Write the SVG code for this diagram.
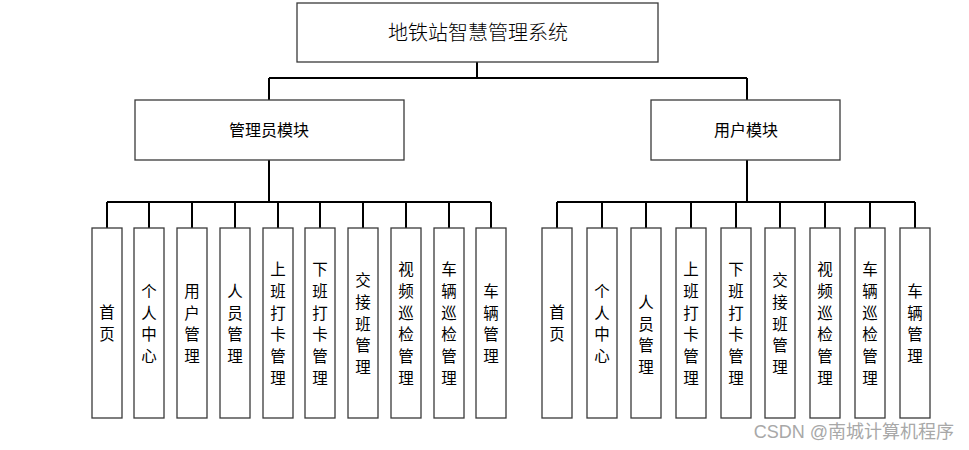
<svg xmlns="http://www.w3.org/2000/svg" width="969" height="450" viewBox="0 0 969 450">
<style>
.box{fill:#fff;stroke:#3a3a3a;stroke-width:1.3}
.t{font-family:"Noto Sans CJK SC","Noto Sans",sans-serif;fill:#000;text-anchor:middle}
.v{font-size:15.5px}
.c{stroke:#000;stroke-width:2;fill:none}
</style>
<rect width="969" height="450" fill="#fff"/>
<g id="connectors">
<path class="c" d="M477 62V78M269 78H747M269 78V100M747 78V100"/>
<path class="c" d="M269 160V202M107 202H491M107 202V228M149 202V228M192 202V228M235 202V228M278 202V228M320 202V228M363 202V228M406 202V228M449 202V228M491 202V228"/>
<path class="c" d="M747 160V202M557 202H915M557 202V228M602 202V228M646 202V228M691 202V228M736 202V228M780 202V228M825 202V228M870 202V228M915 202V228"/>
</g>
<g id="root"><rect class="box" x="297" y="3" width="361" height="59"/><text class="t" x="478" y="40" font-size="20" font-weight="300">地铁站智慧管理系统</text></g>
<g id="admin"><rect class="box" x="135" y="100" width="269" height="60"/><text class="t" x="269" y="136" font-size="16">管理员模块</text></g>
<g id="user"><rect class="box" x="651" y="100" width="189" height="60"/><text class="t" x="746" y="136" font-size="16">用户模块</text></g>
<g id="a1"><rect class="box" x="92" y="228" width="30" height="190"/><text class="t v" x="107"><tspan x="107" y="318">首</tspan><tspan x="107" y="340">页</tspan></text></g>
<g id="a2"><rect class="box" x="134" y="228" width="30" height="190"/><text class="t v" x="149"><tspan x="149" y="297">个</tspan><tspan x="149" y="319">人</tspan><tspan x="149" y="340">中</tspan><tspan x="149" y="362">心</tspan></text></g>
<g id="a3"><rect class="box" x="177" y="228" width="30" height="190"/><text class="t v"><tspan x="192" y="297">用</tspan><tspan x="192" y="319">户</tspan><tspan x="192" y="340">管</tspan><tspan x="192" y="362">理</tspan></text></g>
<g id="a4"><rect class="box" x="220" y="228" width="30" height="190"/><text class="t v"><tspan x="235" y="297">人</tspan><tspan x="235" y="319">员</tspan><tspan x="235" y="340">管</tspan><tspan x="235" y="362">理</tspan></text></g>
<g id="a5"><rect class="box" x="263" y="228" width="30" height="190"/><text class="t v"><tspan x="278" y="275">上</tspan><tspan x="278" y="297">班</tspan><tspan x="278" y="319">打</tspan><tspan x="278" y="340">卡</tspan><tspan x="278" y="362">管</tspan><tspan x="278" y="384">理</tspan></text></g>
<g id="a6"><rect class="box" x="305" y="228" width="30" height="190"/><text class="t v"><tspan x="320" y="275">下</tspan><tspan x="320" y="297">班</tspan><tspan x="320" y="319">打</tspan><tspan x="320" y="340">卡</tspan><tspan x="320" y="362">管</tspan><tspan x="320" y="384">理</tspan></text></g>
<g id="a7"><rect class="box" x="348" y="228" width="30" height="190"/><text class="t v"><tspan x="363" y="286">交</tspan><tspan x="363" y="308">接</tspan><tspan x="363" y="330">班</tspan><tspan x="363" y="351">管</tspan><tspan x="363" y="373">理</tspan></text></g>
<g id="a8"><rect class="box" x="391" y="228" width="30" height="190"/><text class="t v"><tspan x="406" y="275">视</tspan><tspan x="406" y="297">频</tspan><tspan x="406" y="319">巡</tspan><tspan x="406" y="340">检</tspan><tspan x="406" y="362">管</tspan><tspan x="406" y="384">理</tspan></text></g>
<g id="a9"><rect class="box" x="434" y="228" width="30" height="190"/><text class="t v"><tspan x="449" y="275">车</tspan><tspan x="449" y="297">辆</tspan><tspan x="449" y="319">巡</tspan><tspan x="449" y="340">检</tspan><tspan x="449" y="362">管</tspan><tspan x="449" y="384">理</tspan></text></g>
<g id="a10"><rect class="box" x="476" y="228" width="30" height="190"/><text class="t v"><tspan x="491" y="297">车</tspan><tspan x="491" y="319">辆</tspan><tspan x="491" y="340">管</tspan><tspan x="491" y="362">理</tspan></text></g>
<g id="u1"><rect class="box" x="542" y="228" width="30" height="190"/><text class="t v"><tspan x="557" y="318">首</tspan><tspan x="557" y="340">页</tspan></text></g>
<g id="u2"><rect class="box" x="587" y="228" width="30" height="190"/><text class="t v"><tspan x="602" y="297">个</tspan><tspan x="602" y="319">人</tspan><tspan x="602" y="340">中</tspan><tspan x="602" y="362">心</tspan></text></g>
<g id="u3"><rect class="box" x="631" y="228" width="30" height="190"/><text class="t v"><tspan x="646" y="308">人</tspan><tspan x="646" y="330">员</tspan><tspan x="646" y="351">管</tspan><tspan x="646" y="373">理</tspan></text></g>
<g id="u4"><rect class="box" x="676" y="228" width="30" height="190"/><text class="t v"><tspan x="691" y="275">上</tspan><tspan x="691" y="297">班</tspan><tspan x="691" y="319">打</tspan><tspan x="691" y="340">卡</tspan><tspan x="691" y="362">管</tspan><tspan x="691" y="384">理</tspan></text></g>
<g id="u5"><rect class="box" x="721" y="228" width="30" height="190"/><text class="t v"><tspan x="736" y="275">下</tspan><tspan x="736" y="297">班</tspan><tspan x="736" y="319">打</tspan><tspan x="736" y="340">卡</tspan><tspan x="736" y="362">管</tspan><tspan x="736" y="384">理</tspan></text></g>
<g id="u6"><rect class="box" x="765" y="228" width="30" height="190"/><text class="t v"><tspan x="780" y="286">交</tspan><tspan x="780" y="308">接</tspan><tspan x="780" y="330">班</tspan><tspan x="780" y="351">管</tspan><tspan x="780" y="373">理</tspan></text></g>
<g id="u7"><rect class="box" x="810" y="228" width="30" height="190"/><text class="t v"><tspan x="825" y="275">视</tspan><tspan x="825" y="297">频</tspan><tspan x="825" y="319">巡</tspan><tspan x="825" y="340">检</tspan><tspan x="825" y="362">管</tspan><tspan x="825" y="384">理</tspan></text></g>
<g id="u8"><rect class="box" x="855" y="228" width="30" height="190"/><text class="t v"><tspan x="870" y="275">车</tspan><tspan x="870" y="297">辆</tspan><tspan x="870" y="319">巡</tspan><tspan x="870" y="340">检</tspan><tspan x="870" y="362">管</tspan><tspan x="870" y="384">理</tspan></text></g>
<g id="u9"><rect class="box" x="900" y="228" width="30" height="190"/><text class="t v"><tspan x="915" y="297">车</tspan><tspan x="915" y="319">辆</tspan><tspan x="915" y="340">管</tspan><tspan x="915" y="362">理</tspan></text></g>
<text x="954" y="438" font-family="'Liberation Sans','Noto Sans CJK SC',sans-serif" font-size="18" fill="#a8a8a8" text-anchor="end">CSDN @南城计算机程序</text>
</svg>
